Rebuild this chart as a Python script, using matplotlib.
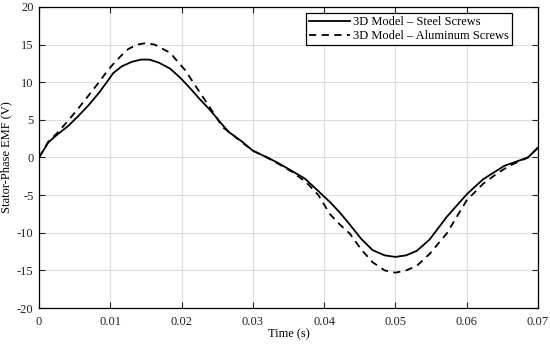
import matplotlib
matplotlib.use("Agg")
import matplotlib.pyplot as plt

plt.rcParams.update({
    'font.family': 'Liberation Serif',
    'font.size': 9,
    'axes.linewidth': 0.9,
    'axes.unicode_minus': False,
    'xtick.direction': 'in',
    'ytick.direction': 'in',
    'xtick.top': True,
    'ytick.right': True,
    'xtick.major.size': 4,
    'ytick.major.size': 4,
    'xtick.color': '#222222',
    'ytick.color': '#222222',
})

# steel screws (solid)
t_steel = [0, 0.0013, 0.0025, 0.0041, 0.0055, 0.007, 0.0085, 0.0095, 0.0104, 0.0116,
           0.013, 0.0143, 0.0155, 0.0168, 0.0184, 0.0198, 0.0212, 0.0225, 0.024, 0.0255,
           0.0266, 0.0285, 0.030, 0.0318, 0.0335, 0.0355, 0.0373, 0.039, 0.0408, 0.0422,
           0.0436, 0.0452, 0.0468, 0.0485, 0.050, 0.0515, 0.053, 0.0548, 0.0572, 0.060,
           0.0623, 0.0643, 0.0653, 0.0686, 0.070]
emf_steel = [0, 2.0, 3.0, 4.2, 5.5, 7.0, 8.7, 10.0, 11.2, 12.1,
             12.7, 13.0, 13.0, 12.6, 11.8, 10.6, 9.2, 7.8, 6.3, 4.6,
             3.4, 2.1, 0.9, 0.1, -0.7, -1.8, -2.8, -4.3, -5.9, -7.3,
             -8.9, -10.8, -12.3, -13.0, -13.2, -13.0, -12.4, -10.9, -7.9, -4.9,
             -2.9, -1.7, -1.1, 0.0, 1.3]

# aluminum screws (dashed)
t_alu = [0, 0.0013, 0.0025, 0.004, 0.0055, 0.007, 0.0085, 0.0095, 0.0104, 0.0115,
         0.0125, 0.0138, 0.015, 0.0162, 0.0174, 0.0184, 0.0193, 0.0205, 0.0221, 0.024,
         0.0258, 0.0268, 0.0285, 0.030, 0.0318, 0.0335, 0.0355, 0.0375, 0.0392, 0.0408,
         0.0422, 0.0436, 0.0452, 0.0468, 0.0485, 0.050, 0.0515, 0.053, 0.0548, 0.0572,
         0.060, 0.0623, 0.0643, 0.066, 0.0686, 0.070]
emf_alu = [0, 2.1, 3.2, 4.8, 6.5, 8.3, 10.1, 11.4, 12.4, 13.5,
           14.4, 15.0, 15.2, 15.0, 14.4, 13.9, 12.9, 11.6, 9.3, 6.6,
           4.0, 3.3, 2.0, 0.9, 0.1, -0.8, -1.9, -3.3, -5.0, -7.5,
           -8.9, -10.1, -12.2, -13.9, -15.0, -15.3, -15.0, -14.4, -12.8, -10.1,
           -5.7, -3.5, -2.1, -1.1, 0.0, 1.3]

fig = plt.figure(figsize=(5.5, 3.45), dpi=100)
ax = fig.add_axes([0.071, 0.107, 0.907, 0.873])

ax.plot(t_steel, emf_steel, 'k-', linewidth=1.3, label='3D Model \u2013 Steel Screws')
ax.plot(t_alu, emf_alu, 'k--', linewidth=1.3, dashes=(4, 3),
        label='3D Model \u2013 Aluminum Screws')

ax.set_xlim(0, 0.07)
ax.set_ylim(-20, 20)
ax.set_xticks([0, 0.01, 0.02, 0.03, 0.04, 0.05, 0.06, 0.07])
ax.set_xticklabels(['0', '0.01', '0.02', '0.03', '0.04', '0.05', '0.06', '0.07'])
ax.set_yticks(range(-20, 21, 5))
ax.tick_params(axis='y', pad=4)
ax.tick_params(axis='x', pad=6)
ax.grid(True, color='#dcdcdc', linewidth=0.8)
ax.set_axisbelow(True)
ax.set_xlabel('Time (s)', labelpad=0)
ax.set_ylabel('Stator-Phase EMF (V)', labelpad=3)

leg = ax.legend(loc='upper right', bbox_to_anchor=(0.948, 0.98), borderaxespad=0,
                fancybox=False, framealpha=1, edgecolor='black', fontsize=9,
                handlelength=3.3, handletextpad=0.2, borderpad=0.25, labelspacing=0.15)
leg.get_frame().set_linewidth(0.9)

fig.savefig('out.png', dpi=100)
